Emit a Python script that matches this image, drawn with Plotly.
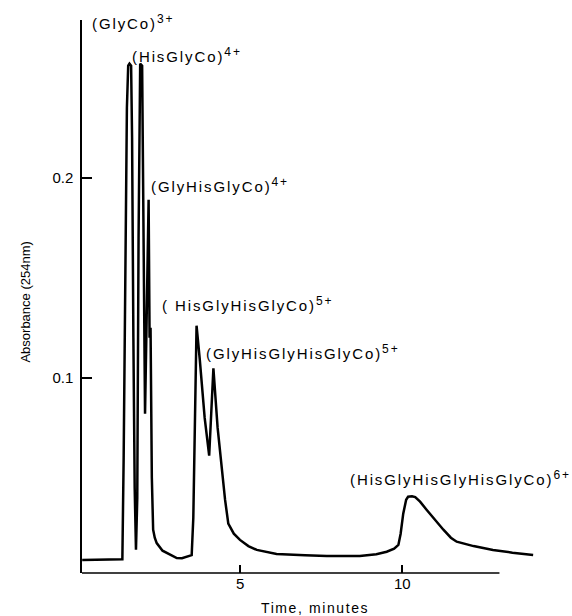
import plotly.graph_objects as go

# Chromatogram trace (time in minutes, absorbance at 254 nm)
time_min = [0.12, 1.0, 1.36, 1.40, 1.45, 1.50, 1.54, 1.58, 1.63, 1.66, 1.70, 1.74, 1.78,
            1.82, 1.86, 1.89, 1.91, 1.97, 2.01, 2.06, 2.12, 2.17, 2.20, 2.23, 2.27, 2.31,
            2.36, 2.42, 2.60, 2.83, 3.04, 3.20, 3.35, 3.50, 3.55, 3.60, 3.65, 3.75, 3.90,
            4.04, 4.10, 4.17, 4.30, 4.45, 4.53, 4.63, 4.80, 4.99, 5.25, 5.51, 6.12, 7.00,
            7.67, 8.69, 9.20, 9.52, 9.75, 9.88, 9.95, 10.03, 10.12, 10.18, 10.30, 10.40,
            10.55, 10.75, 11.00, 11.27, 11.50, 11.68, 12.20, 12.80, 13.40, 14.04]
absorbance = [0.0089, 0.0089, 0.0092, 0.060, 0.150, 0.235, 0.256, 0.257, 0.256, 0.220,
              0.120, 0.045, 0.014, 0.040, 0.170, 0.250, 0.257, 0.256, 0.160, 0.082,
              0.140, 0.189, 0.120, 0.125, 0.050, 0.024, 0.020, 0.0173, 0.0135, 0.0114,
              0.0098, 0.0097, 0.0105, 0.0113, 0.030, 0.090, 0.126, 0.109, 0.080, 0.061,
              0.085, 0.1047, 0.075, 0.050, 0.039, 0.027, 0.022, 0.0189, 0.0158, 0.0139,
              0.0119, 0.0112, 0.0109, 0.0109, 0.0117, 0.0130, 0.0145, 0.0164, 0.022,
              0.032, 0.039, 0.0405, 0.0407, 0.0403, 0.038, 0.034, 0.029, 0.024, 0.020,
              0.018, 0.0158, 0.0139, 0.0125, 0.0114]

# Peak labels: (name, charge)
peak_names = ["(GlyCo)", "(HisGlyCo)", "(GlyHisGlyCo)", "( HisGlyHisGlyCo)",
              "(GlyHisGlyHisGlyCo)", "(HisGlyHisGlyHisGlyCo)"]
peak_charges = ["3+", "4+", "4+", "5+", "5+", "6+"]
label_x = [0.36, 1.59, 2.18, 2.52, 3.88, 8.33]
label_y = [0.2779, 0.2614, 0.1964, 0.1369, 0.1129, 0.0499]

x_ticks = [5, 10]
x_ticklabels = ["5", "10"]
y_ticks = [0.1, 0.2]
y_ticklabels = ["0.1", "0.2"]

FONT = "Liberation Sans, Arial, sans-serif"
SPACED = "letter-spacing:1.9px"

fig = go.Figure()
fig.add_trace(go.Scatter(x=time_min, y=absorbance, mode="lines",
                         line=dict(color="black", width=2.5), hoverinfo="skip",
                         showlegend=False))

for name, chg, lx, ly in zip(peak_names, peak_charges, label_x, label_y):
    txt = (f'<span style="{SPACED}">{name}</span>'
           f'<sup><span style="font-size:12px;{SPACED}">{chg}</span></sup>')
    fig.add_annotation(x=lx, y=ly, xref="x", yref="y", text=txt, showarrow=False,
                       xanchor="left", yanchor="middle",
                       font=dict(family=FONT, size=15, color="black"))

fig.add_annotation(x=-0.126, y=0.49, xref="paper", yref="paper", text="Absorbance (254nm)",
                   textangle=-90, showarrow=False, xanchor="center", yanchor="middle",
                   font=dict(family=FONT, size=13, color="black"))
fig.add_annotation(x=0.511, y=-0.0633, xref="paper", yref="paper",
                   text='<span style="letter-spacing:1.6px">Time, minutes</span>',
                   showarrow=False, xanchor="center", yanchor="middle",
                   font=dict(family=FONT, size=14, color="black"))

# x axis line drawn only up to 13 min
fig.add_shape(type="line", xref="x", yref="paper", x0=0.114, x1=13.0, y0=0, y1=0,
              line=dict(color="black", width=1.5))

fig.update_layout(
    width=572, height=616,
    margin=dict(l=82, r=34, t=20, b=43),
    paper_bgcolor="white", plot_bgcolor="white",
    font=dict(family=FONT, size=15, color="black"),
    xaxis=dict(range=[0.114, 14.19], showgrid=False, zeroline=False, showline=False,
               tickmode="array", tickvals=x_ticks, ticktext=x_ticklabels,
               ticks="inside", ticklen=8, tickwidth=1.5, tickcolor="black",
               tickfont=dict(family=FONT, size=15, color="black")),
    yaxis=dict(range=[0.00235, 0.27885], showgrid=False, zeroline=False, showline=True,
               linecolor="black", linewidth=1.5,
               tickmode="array", tickvals=y_ticks, ticktext=y_ticklabels,
               ticks="inside", ticklen=10, tickwidth=1.5, tickcolor="black",
               ticklabelstandoff=4,
               tickfont=dict(family=FONT, size=15, color="black")),
)

fig.write_html("out.html", config={"displayModeBar": False},
               post_script="document.body.style.margin='0px';"
                           "document.body.style.overflow='hidden';")
